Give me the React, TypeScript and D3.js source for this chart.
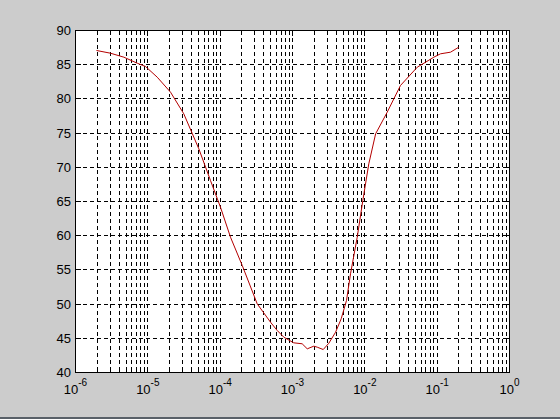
import React from "react";
import * as d3 from "d3";

const xValues = [
  1.95e-6, 3.05e-6, 4.66e-6, 7.13e-6, 9.29e-6, 1.35e-5, 2.06e-5, 3.14e-5, 5.07e-5, 7.35e-5,
  1.01e-4, 1.39e-4, 2.02e-4, 3.25e-4, 4.97e-4, 6.15e-4, 7.59e-4, 1.04e-3, 1.36e-3, 1.6e-3,
  1.97e-3, 2.2e-3, 2.66e-3, 3.18e-3, 3.94e-3, 4.71e-3, 5.58e-3, 6.34e-3, 7.85e-3, 9.38e-3,
  1.135e-2, 1.41e-2, 2.04e-2, 3.11e-2, 5.3e-2, 9.0e-2, 0.111, 0.153, 0.199,
];
const yValues = [
  87.08, 86.68, 86.1, 85.22, 84.74, 83.17, 80.98, 77.82, 72.7, 68.07,
  64.17, 59.78, 55.64, 50.04, 47.35, 46.14, 45.16, 44.34, 44.2, 43.46,
  43.85, 43.7, 43.36, 44.28, 45.89, 47.85, 50.53, 54.43, 59.78, 65.15,
  70.51, 74.9, 78.06, 81.96, 84.63, 86.1, 86.59, 86.83, 87.56,
];
const xTickExponents = [-6, -5, -4, -3, -2, -1, 0];
const yTicks = [40, 45, 50, 55, 60, 65, 70, 75, 80, 85, 90];

const W = 560;
const H = 419;
const L = 75.5, R = 509.5, T = 30.5, B = 372.5;

export default function App() {
  const x = d3.scaleLog().domain([1e-6, 1]).range([L, R]);
  const y = d3.scaleLinear().domain([40, 90]).range([B, T]);
  const snap = (v: number) => Math.round(v - 0.5) + 0.5;

  const majorX = xTickExponents.map((e) => Math.pow(10, e));
  const minorX: number[] = [];
  for (let e = -6; e < 0; e++) {
    for (let m = 2; m <= 9; m++) minorX.push(m * Math.pow(10, e));
  }
  const gridX = [...majorX.slice(1, -1), ...minorX];
  const gridY = yTicks.slice(1, -1);

  const line = d3
    .line<number>()
    .x((_, i) => x(xValues[i]))
    .y((d) => y(d));

  const font = "Liberation Sans, Arial, sans-serif";

  return (
    <svg
      width={W}
      height={H}
      style={{ position: "absolute", left: 0, top: 0, display: "block" }}
    >
      <rect x={0} y={0} width={W} height={H} fill="#cccccc" />
      <rect x={0} y={417} width={W} height={2} fill="#596068" />
      <rect x={L} y={T} width={R - L} height={B - T} fill="#ffffff" />
      <g stroke="#000" strokeWidth={1} strokeDasharray="4,3" shapeRendering="crispEdges">
        {gridX.map((v, i) => (
          <line key={"gx" + i} x1={snap(x(v))} x2={snap(x(v))} y1={T} y2={B} />
        ))}
        {gridY.map((v, i) => (
          <line key={"gy" + i} x1={L} x2={R} y1={snap(y(v))} y2={snap(y(v))} />
        ))}
      </g>
      <g stroke="#000" strokeWidth={1} shapeRendering="crispEdges">
        {majorX.map((v, i) => (
          <g key={"mt" + i}>
            <line x1={snap(x(v))} x2={snap(x(v))} y1={B} y2={B - 5} />
            <line x1={snap(x(v))} x2={snap(x(v))} y1={T} y2={T + 5} />
          </g>
        ))}
        {minorX.map((v, i) => (
          <g key={"nt" + i}>
            <line x1={snap(x(v))} x2={snap(x(v))} y1={B} y2={B - 3} />
            <line x1={snap(x(v))} x2={snap(x(v))} y1={T} y2={T + 3} />
          </g>
        ))}
        {yTicks.map((v, i) => (
          <g key={"yt" + i}>
            <line x1={L} x2={L + 5} y1={snap(y(v))} y2={snap(y(v))} />
            <line x1={R} x2={R - 5} y1={snap(y(v))} y2={snap(y(v))} />
          </g>
        ))}
      </g>
      <path d={line(yValues) || ""} fill="none" stroke="#b40000" strokeWidth={1} />
      <rect
        x={L}
        y={T}
        width={R - L}
        height={B - T}
        fill="none"
        stroke="#000"
        strokeWidth={1}
        shapeRendering="crispEdges"
      />
      <g fontFamily={font} fontSize={13} fill="#000">
        {yTicks.map((v, i) => (
          <text key={"yl" + i} x={71} y={y(v)} textAnchor="end" dominantBaseline="central">
            {v}
          </text>
        ))}
        {xTickExponents.map((e, i) => (
          <text key={"xl" + i} x={x(Math.pow(10, e))} y={394} textAnchor="middle">
            <tspan>10</tspan>
            <tspan dy={-8} fontSize={10}>
              {String(e)}
            </tspan>
          </text>
        ))}
      </g>
    </svg>
  );
}
